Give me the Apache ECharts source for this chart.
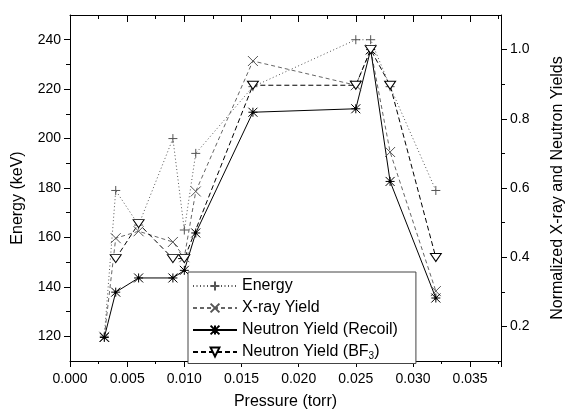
<!DOCTYPE html>
<html>
<head>
<meta charset="utf-8">
<script src="https://cdn.jsdelivr.net/npm/echarts@6/dist/echarts.min.js"></script>
<style>
    html, body {
        margin: 0;
        padding: 0;
        background: #fff;
    }
    #chart {
        width: 566px;
        height: 413px;
    }
</style>
</head>
<body>
<div id="chart"></div>
<script>
// 数据
const pressure = [0.003, 0.004, 0.006, 0.009, 0.010, 0.011, 0.016, 0.025, 0.0263, 0.028, 0.032]
const energy = [120, 179, 165, 200, 163, 194, 221, 240, 240, 221, 179]
const xrayYield = [0.17, 0.455, 0.475, 0.444, 0.40, 0.59, 0.967, 0.897, 1.0, 0.704, 0.302]
const recoilYield = [0.168, 0.299, 0.34, 0.34, 0.362, 0.47, 0.819, 0.829, 1.0, 0.619, 0.282]
const bf3Yield = [null, 0.396, 0.497, 0.396, 0.396, null, 0.897, 0.897, 1.0, 0.897, 0.399]

// 刻度
const energyTicks = [120, 140, 160, 180, 200, 220, 240]
const energyMinorTicks = [130, 150, 170, 190, 210, 230]
const yieldTicks = [0.2, 0.4, 0.6, 0.8, 1.0]
const yieldMinorTicks = [0.3, 0.5, 0.7, 0.9]

const font = 'Liberation Sans, Arial, sans-serif'

// 符号
const plusSymbol = 'path://M5 0 L5 10 M0 5 L10 5'
const crossSymbol = 'path://M0 0 L10 10 M10 0 L0 10'
const starSymbol = 'path://M0 0 L10 10 M10 0 L0 10 M5 0 L5 10 M0 5 L10 5 M4 4 L6 4 L6 6 L4 6 Z'
const triSymbol = 'path://M0 0 L12 0 L6 9 Z'

const pairs = (arr) => pressure.map((p, i) => [p, arr[i]])

const xLabel = (v) => {
    const k = v / 0.005
    return Math.abs(k - Math.round(k)) < 1e-6 ? v.toFixed(3) : ''
}

const axisLine = {show: true, onZero: false, lineStyle: {color: '#000', width: 1}}

let option = {
    animation: false,
    backgroundColor: '#fff',
    grid: {
        left: 70,
        right: 65,
        top: 15,
        bottom: 52,
        outerBoundsMode: 'none'
    },
    legend: {
        orient: 'vertical',
        left: 188,
        top: 272,
        padding: [6, 18, 2, 4],
        itemWidth: 44,
        itemHeight: 11,
        itemGap: 6,
        selectedMode: false,
        backgroundColor: '#fff',
        borderColor: '#444',
        borderWidth: 1,
        borderRadius: 0,
        textStyle: {
            fontFamily: font,
            fontSize: 16,
            color: '#000',
            rich: {
                s: {
                    fontFamily: font,
                    fontSize: 10,
                    color: '#000',
                    padding: [9, 0, 0, 0]
                }
            }
        },
        formatter: (name) => name === 'Neutron Yield (BF3)' ? 'Neutron Yield (BF{s|3})' : name,
        data: ['Energy', 'X-ray Yield', 'Neutron Yield (Recoil)', 'Neutron Yield (BF3)']
    },
    xAxis: [
        {
            type: 'value',
            position: 'bottom',
            min: 0,
            max: 0.0377,
            interval: 0.005,
            name: 'Pressure (torr)',
            nameLocation: 'middle',
            nameGap: 33,
            nameTextStyle: {fontFamily: font, fontSize: 16, color: '#000'},
            axisLine: axisLine,
            axisTick: {show: true, inside: false, length: 6, lineStyle: {color: '#000'}},
            minorTick: {show: true, splitNumber: 2, length: 3, lineStyle: {color: '#000'}},
            axisLabel: {fontFamily: font, fontSize: 14, color: '#000', margin: 11, formatter: xLabel},
            splitLine: {show: false}
        },
        {
            type: 'value',
            position: 'top',
            min: 0,
            max: 0.0377,
            interval: 0.005,
            axisLine: axisLine,
            axisTick: {show: true, inside: true, length: 7, lineStyle: {color: '#000'}},
            minorTick: {show: true, splitNumber: 2, length: 4, lineStyle: {color: '#000'}},
            axisLabel: {show: false},
            splitLine: {show: false}
        }
    ],
    yAxis: [
        {
            type: 'value',
            position: 'left',
            min: 110,
            max: 250,
            name: 'Energy (keV)',
            nameLocation: 'middle',
            nameRotate: 90,
            nameGap: 44,
            nameTextStyle: {fontFamily: font, fontSize: 16, color: '#000', padding: [0, 20, 0, 0]},
            axisLine: axisLine,
            axisTick: {show: true, inside: false, length: 6, customValues: energyTicks, lineStyle: {color: '#000'}},
            axisLabel: {fontFamily: font, fontSize: 14, color: '#000', margin: 9, customValues: energyTicks},
            splitLine: {show: false}
        },
        {
            type: 'value',
            position: 'right',
            min: 0.1,
            max: 1.1,
            name: 'Normalized X-ray and Neutron Yields',
            nameLocation: 'middle',
            nameRotate: 90,
            nameGap: 49,
            nameTextStyle: {fontFamily: font, fontSize: 16, color: '#000'},
            axisLine: axisLine,
            axisTick: {show: true, inside: false, length: 6, customValues: yieldTicks, lineStyle: {color: '#000'}},
            axisLabel: {
                fontFamily: font, fontSize: 14, color: '#000', margin: 9, customValues: yieldTicks,
                formatter: (v) => v.toFixed(1)
            },
            splitLine: {show: false}
        },
        {
            // 左侧次刻度
            type: 'value',
            position: 'left',
            min: 110,
            max: 250,
            axisLine: {show: false, onZero: false},
            axisTick: {show: true, inside: false, length: 4, customValues: energyMinorTicks, lineStyle: {color: '#000'}},
            axisLabel: {show: false},
            splitLine: {show: false}
        },
        {
            // 右侧次刻度
            type: 'value',
            position: 'right',
            min: 0.1,
            max: 1.1,
            axisLine: {show: false, onZero: false},
            axisTick: {show: true, inside: false, length: 4, customValues: yieldMinorTicks, lineStyle: {color: '#000'}},
            axisLabel: {show: false},
            splitLine: {show: false}
        }
    ],
    series: [
        {
            name: 'Energy',
            type: 'line',
            yAxisIndex: 0,
            data: pairs(energy),
            symbol: plusSymbol,
            symbolSize: 9,
            lineStyle: {color: '#555', width: 1, type: [1, 2.5]},
            itemStyle: {color: '#555', borderColor: '#555', borderWidth: 1}
        },
        {
            name: 'X-ray Yield',
            type: 'line',
            yAxisIndex: 1,
            data: pairs(xrayYield),
            symbol: crossSymbol,
            symbolSize: 10,
            lineStyle: {color: '#666', width: 1, type: [4, 3]},
            itemStyle: {color: '#555', borderColor: '#555', borderWidth: 1}
        },
        {
            name: 'Neutron Yield (Recoil)',
            type: 'line',
            yAxisIndex: 1,
            data: pairs(recoilYield),
            symbol: starSymbol,
            symbolSize: 9,
            lineStyle: {color: '#000', width: 1},
            itemStyle: {color: '#000', borderColor: '#000', borderWidth: 1}
        },
        {
            name: 'Neutron Yield (BF3)',
            type: 'line',
            yAxisIndex: 1,
            data: pairs(bf3Yield),
            connectNulls: true,
            symbol: triSymbol,
            symbolSize: [11, 8],
            lineStyle: {color: '#000', width: 1, type: [5, 3]},
            itemStyle: {color: '#fff', borderColor: '#000', borderWidth: 1}
        }
    ]
}

const myChart = echarts.init(document.getElementById('chart'))
myChart.setOption(option)
</script>
</body>
</html>
